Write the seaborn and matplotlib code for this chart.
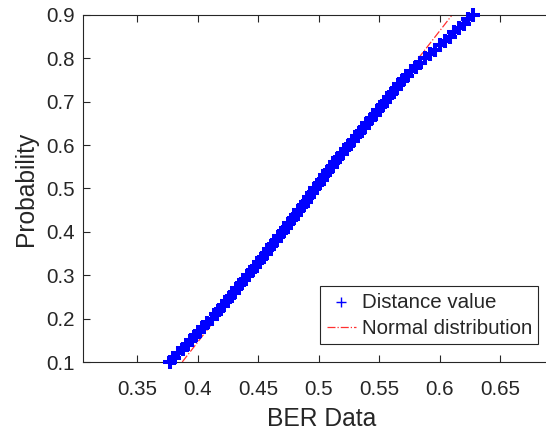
import numpy as np
import pandas as pd
import seaborn as sns
import matplotlib.pyplot as plt

# probability levels and the matching BER data values
prob = [0.10, 0.11, 0.12, 0.13, 0.14, 0.15, 0.16, 0.17, 0.18, 0.19,
        0.20, 0.21, 0.22, 0.23, 0.24, 0.25, 0.26, 0.27, 0.28, 0.29,
        0.30, 0.31, 0.32, 0.33, 0.34, 0.35, 0.36, 0.37, 0.38, 0.39,
        0.40, 0.41, 0.42, 0.43, 0.44, 0.45, 0.46, 0.47, 0.48, 0.49,
        0.50, 0.51, 0.52, 0.53, 0.54, 0.55, 0.56, 0.57, 0.58, 0.59,
        0.60, 0.61, 0.62, 0.63, 0.64, 0.65, 0.66, 0.67, 0.68, 0.69,
        0.70, 0.71, 0.72, 0.73, 0.74, 0.75, 0.76, 0.77, 0.78, 0.79,
        0.80, 0.81, 0.82, 0.83, 0.84, 0.85, 0.86, 0.87, 0.88, 0.89,
        0.90]
ber = [0.3770, 0.3804, 0.3838, 0.3873, 0.3907, 0.3941, 0.3975, 0.4010, 0.4044, 0.4078,
       0.4112, 0.4147, 0.4178, 0.4207, 0.4237, 0.4266, 0.4295, 0.4325, 0.4354, 0.4384,
       0.4413, 0.4443, 0.4472, 0.4502, 0.4531, 0.4559, 0.4587, 0.4615, 0.4643, 0.4671,
       0.4699, 0.4727, 0.4755, 0.4783, 0.4812, 0.4838, 0.4865, 0.4891, 0.4917, 0.4944,
       0.4970, 0.4997, 0.5024, 0.5051, 0.5078, 0.5106, 0.5133, 0.5161, 0.5191, 0.5221,
       0.5251, 0.5281, 0.5311, 0.5341, 0.5371, 0.5401, 0.5431, 0.5460, 0.5489, 0.5518,
       0.5547, 0.5575, 0.5604, 0.5633, 0.5661, 0.5694, 0.5728, 0.5763, 0.5798, 0.5839,
       0.5879, 0.5920, 0.5960, 0.6000, 0.6040, 0.6080, 0.6120, 0.6159, 0.6196, 0.6233,
       0.6270]

# fitted normal reference line (end points)
ref_prob = [0.10, 0.90]
ref_ber = [0.387, 0.610]

x_ticks = [0.35, 0.4, 0.45, 0.5, 0.55, 0.6, 0.65]
x_tick_labels = ['0.35', '0.4', '0.45', '0.5', '0.55', '0.6', '0.65']
y_ticks = [0.1, 0.2, 0.3, 0.4, 0.5, 0.6, 0.7, 0.8, 0.9]
y_tick_labels = ['0.1', '0.2', '0.3', '0.4', '0.5', '0.6', '0.7', '0.8', '0.9']

sns.set_theme(style='white')
plt.rcParams['font.family'] = ['Liberation Sans', 'DejaVu Sans']
text_color = '#262626'

df = pd.DataFrame({'BER': ber, 'Probability': prob})
ref = pd.DataFrame({'BER': ref_ber, 'Probability': ref_prob})

fig = plt.figure(figsize=(5.46, 4.34), dpi=100)
ax = fig.add_axes([83 / 546, 72 / 434, 477 / 546, 347 / 434])

sns.lineplot(data=ref, x='BER', y='Probability', color='#ff3030',
             linestyle='-.', linewidth=0.9, ax=ax,
             label='Normal distribution', zorder=2)
sns.scatterplot(data=df, x='BER', y='Probability', marker='+', s=105,
                color='#0000ff', linewidth=2.9, ax=ax, clip_on=False,
                label='Distance value', zorder=3)

ax.set_xlim(0.305, 0.6992)
ax.set_ylim(0.1, 0.9)
ax.set_xticks(x_ticks)
ax.set_xticklabels(x_tick_labels)
ax.set_yticks(y_ticks)
ax.set_yticklabels(y_tick_labels)
ax.tick_params(direction='in', length=5, width=0.8, colors=text_color,
               labelsize=14.8, top=True, bottom=True, left=True, right=True)
ax.tick_params(axis='x', pad=13)
ax.tick_params(axis='y', pad=6)
for side in ['left', 'bottom', 'top', 'right']:
    ax.spines[side].set_color(text_color)
    ax.spines[side].set_linewidth(0.8)

ax.set_xlabel('BER Data', fontsize=17.7, color=text_color, labelpad=6)
ax.set_ylabel('Probability', fontsize=17.7, color=text_color, labelpad=6)

handles, labels = ax.get_legend_handles_labels()
order = [labels.index('Distance value'), labels.index('Normal distribution')]
leg = ax.legend([handles[i] for i in order], [labels[i] for i in order],
                loc='lower right', bbox_to_anchor=(0.954, 0.052),
                fontsize=14.8, frameon=True, fancybox=False, framealpha=1,
                edgecolor='#262626', borderpad=0.3, labelspacing=0.35,
                handlelength=1.45, handletextpad=0.25, borderaxespad=0)
leg.get_frame().set_linewidth(0.8)
leg.legend_handles[0].set_sizes([45])
leg.legend_handles[0].set_linewidth(1.0)
for t in leg.get_texts():
    t.set_color(text_color)

fig.savefig('out.png', dpi=100)
